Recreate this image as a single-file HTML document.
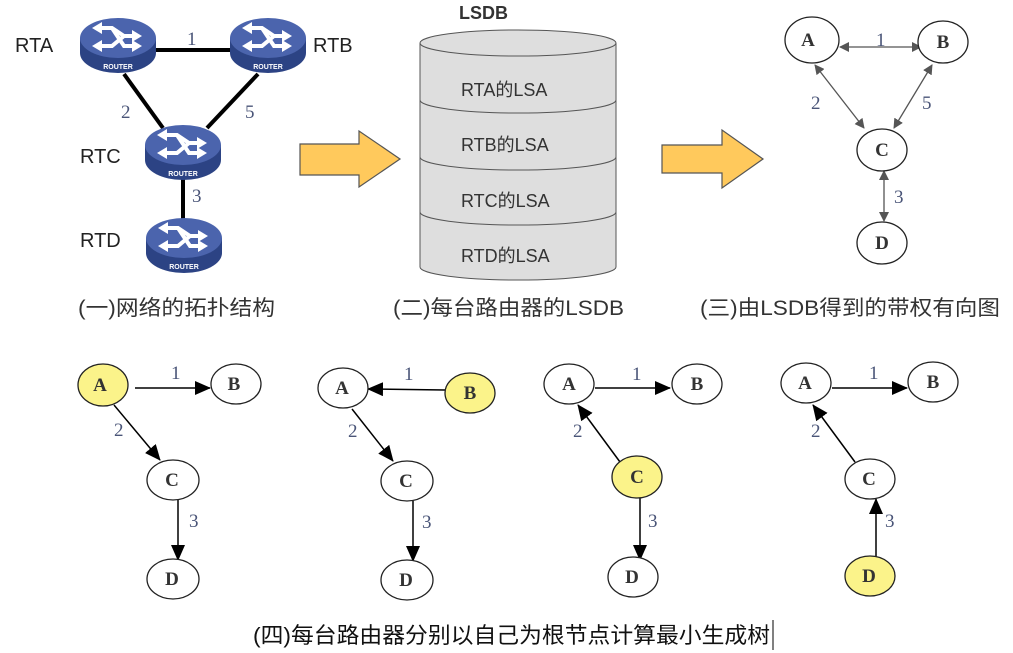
<!DOCTYPE html>
<html><head><meta charset="utf-8"><style>
html,body{margin:0;padding:0;background:#fff;width:1013px;height:653px;overflow:hidden}
svg{display:block}
.sans{font-family:"Liberation Sans","Noto Sans CJK SC",sans-serif}
.nl{font-family:"Liberation Serif",serif;font-weight:bold;font-size:19px;fill:#333}
.el{font-family:"Liberation Serif",serif;font-size:19px;fill:#4a5578}
</style></head><body>
<svg width="1013" height="653" viewBox="0 0 1013 653" xmlns="http://www.w3.org/2000/svg">
<defs>
<g id="rt">
 <path d="M-38,0 L-38,15 A38,20 0 0 0 38,15 L38,0 Z" fill="#2c4384"/>
 <ellipse cx="0" cy="0" rx="38" ry="20" fill="#4b64ad"/>
 <g stroke="#fff" stroke-width="4" fill="none">
  <path d="M-22,-10 L-6,-10 L6,-2 L20,-2"/>
  <path d="M-22,8 L-6,8 L6,-2"/>
  <path d="M-6,-10 L6,8 L20,8"/>
 </g>
 <path d="M14,-8 L24,-2 L14,4Z M14,2 L24,8 L14,14Z M-16,-16 L-26,-10 L-16,-4Z M-16,2 L-26,8 L-16,14Z" fill="#fff"/>
 <text x="0" y="31" font-family="Liberation Sans,sans-serif" font-weight="bold" font-size="7" fill="#fff" text-anchor="middle">ROUTER</text>
</g>
<marker id="ah" markerWidth="10" markerHeight="10" refX="9" refY="5" orient="auto" markerUnits="userSpaceOnUse"><path d="M0,0 L10,5 L0,10Z" fill="#555"/></marker>
<marker id="at" markerWidth="10" markerHeight="10" refX="1" refY="5" orient="auto" markerUnits="userSpaceOnUse"><path d="M10,0 L0,5 L10,10Z" fill="#555"/></marker>
<marker id="bk" markerWidth="16" markerHeight="14" refX="15" refY="7" orient="auto" markerUnits="userSpaceOnUse"><path d="M0,0 L16,7 L0,14Z" fill="#000"/></marker>
</defs>

<!-- Part 1 -->
<g stroke="#000" stroke-width="4">
<line x1="150" y1="50" x2="235" y2="50"/>
<line x1="124" y1="74" x2="163" y2="128"/>
<line x1="258" y1="74" x2="207" y2="128"/>
<line x1="183" y1="172" x2="183" y2="222"/>
</g>
<use href="#rt" x="118" y="38"/>
<use href="#rt" x="268" y="38"/>
<use href="#rt" x="183" y="145"/>
<use href="#rt" x="184" y="238"/>
<g class="sans" font-size="20" fill="#222">
<text x="15" y="52">RTA</text><text x="313" y="52">RTB</text>
<text x="80" y="163">RTC</text><text x="80" y="247">RTD</text>
</g>
<g class="el" font-size="20">
<text x="187" y="45">1</text><text x="121" y="118">2</text><text x="245" y="118">5</text><text x="192" y="202">3</text>
</g>
<text class="sans" x="78" y="315" font-size="21" fill="#333" textLength="197" lengthAdjust="spacingAndGlyphs">(一)网络的拓扑结构</text>

<!-- arrows -->
<path d="M300,144 L359,144 L359,131 L400,159 L359,187 L359,175 L300,175Z" fill="#ffc95c" stroke="#555" stroke-width="1.2"/>
<path d="M662,145 L722,145 L722,130 L763,159 L722,188 L722,173 L662,173Z" fill="#ffc95c" stroke="#555" stroke-width="1.2"/>

<!-- cylinder -->
<text class="sans" x="459" y="19" font-size="18" font-weight="bold" fill="#333">LSDB</text>
<path d="M420,43 L420,267 A98,13 0 0 0 616,267 L616,43" fill="#dedede" stroke="#555" stroke-width="1"/>
<ellipse cx="518" cy="43" rx="98" ry="13" fill="#dedede" stroke="#555" stroke-width="1"/>
<g fill="none" stroke="#555" stroke-width="1">
<path d="M420,100 A98,13 0 0 0 616,100"/>
<path d="M420,157 A98,13 0 0 0 616,157"/>
<path d="M420,212 A98,13 0 0 0 616,212"/>
</g>
<g class="sans" font-size="18" fill="#333">
<text x="461" y="96">RTA的LSA</text><text x="461" y="151">RTB的LSA</text>
<text x="461" y="207">RTC的LSA</text><text x="461" y="262">RTD的LSA</text>
</g>
<text class="sans" x="393" y="315" font-size="21" fill="#333" textLength="231" lengthAdjust="spacingAndGlyphs">(二)每台路由器的LSDB</text>

<!-- part 3 -->
<g stroke="#555" stroke-width="1.3" marker-end="url(#ah)" marker-start="url(#at)">
<line x1="840" y1="47" x2="921" y2="47"/>
<line x1="815" y1="65" x2="864" y2="128"/>
<line x1="932" y1="65" x2="894" y2="128"/>
<line x1="884" y1="171" x2="884" y2="221"/>
</g>
<g fill="#fff" stroke="#222" stroke-width="1.3">
<ellipse cx="812" cy="40" rx="27" ry="23"/><ellipse cx="943" cy="42" rx="25" ry="21"/>
<ellipse cx="882" cy="150" rx="25" ry="21"/><ellipse cx="882" cy="243" rx="25" ry="21"/>
</g>
<g class="nl" text-anchor="middle"><text x="808" y="46">A</text><text x="943" y="48">B</text><text x="882" y="156">C</text><text x="882" y="249">D</text></g>
<g class="el"><text x="876" y="46">1</text><text x="811" y="109">2</text><text x="922" y="109">5</text><text x="894" y="203">3</text></g>
<text class="sans" x="700" y="315" font-size="21" fill="#333" textLength="300" lengthAdjust="spacingAndGlyphs">(三)由LSDB得到的带权有向图</text>

<!-- part 4 -->
<g stroke="#000" stroke-width="1.5" marker-end="url(#bk)">
<line x1="135" y1="388" x2="210" y2="388"/>
<line x1="114" y1="405" x2="160" y2="460"/>
<line x1="178" y1="500" x2="178" y2="560"/>
<line x1="445" y1="390" x2="368" y2="389"/>
<line x1="352" y1="409" x2="393" y2="461"/>
<line x1="413" y1="501" x2="413" y2="561"/>
<line x1="595" y1="388" x2="670" y2="388"/>
<line x1="620" y1="462" x2="578" y2="405"/>
<line x1="640" y1="498" x2="640" y2="560"/>
<line x1="832" y1="388" x2="907" y2="388"/>
<line x1="855" y1="462" x2="813" y2="405"/>
<line x1="876" y1="558" x2="876" y2="499"/>
</g>
<g stroke="#222" stroke-width="1.3">
<ellipse cx="103" cy="385" rx="25" ry="21" fill="#fbf38a"/><ellipse cx="236" cy="384" rx="25" ry="20" fill="#fff"/>
<ellipse cx="173" cy="480" rx="26" ry="20" fill="#fff"/><ellipse cx="173" cy="579" rx="26" ry="20" fill="#fff"/>
<ellipse cx="343" cy="388" rx="25" ry="20" fill="#fff"/><ellipse cx="470" cy="393" rx="25" ry="20" fill="#fbf38a"/>
<ellipse cx="407" cy="481" rx="26" ry="20" fill="#fff"/><ellipse cx="407" cy="580" rx="26" ry="20" fill="#fff"/>
<ellipse cx="569" cy="384" rx="25" ry="20" fill="#fff"/><ellipse cx="697" cy="384" rx="25" ry="20" fill="#fff"/>
<ellipse cx="637" cy="477" rx="25" ry="21" fill="#fbf38a"/><ellipse cx="633" cy="577" rx="25" ry="20" fill="#fff"/>
<ellipse cx="806" cy="383" rx="25" ry="20" fill="#fff"/><ellipse cx="933" cy="382" rx="25" ry="20" fill="#fff"/>
<ellipse cx="870" cy="479" rx="25" ry="20" fill="#fff"/><ellipse cx="870" cy="576" rx="25" ry="20" fill="#fbf38a"/>
</g>
<g class="nl" text-anchor="middle">
<text x="100" y="391">A</text><text x="234" y="390">B</text><text x="172" y="486">C</text><text x="172" y="585">D</text>
<text x="342" y="394">A</text><text x="470" y="399">B</text><text x="406" y="487">C</text><text x="406" y="586">D</text>
<text x="569" y="390">A</text><text x="697" y="390">B</text><text x="637" y="483">C</text><text x="632" y="583">D</text>
<text x="805" y="389">A</text><text x="933" y="388">B</text><text x="869" y="485">C</text><text x="869" y="582">D</text>
</g>
<g class="el">
<text x="171" y="379">1</text><text x="114" y="436">2</text><text x="189" y="527">3</text>
<text x="404" y="380">1</text><text x="348" y="437">2</text><text x="422" y="528">3</text>
<text x="632" y="380">1</text><text x="573" y="437">2</text><text x="648" y="527">3</text>
<text x="869" y="379">1</text><text x="811" y="437">2</text><text x="885" y="527">3</text>
</g>
<text class="sans" x="253" y="643" font-size="22" fill="#111" textLength="517" lengthAdjust="spacingAndGlyphs">(四)每台路由器分别以自己为根节点计算最小生成树</text>
<line x1="773" y1="620" x2="773" y2="650" stroke="#000" stroke-width="1"/>
</svg>
</body></html>
